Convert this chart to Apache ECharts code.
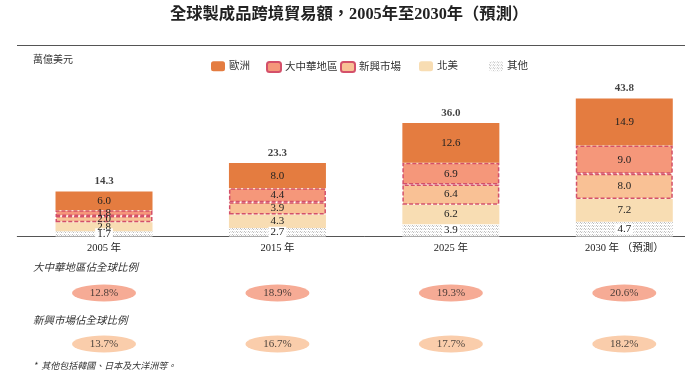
<!DOCTYPE html>
<html>
<head>
<meta charset="utf-8">
<script src="https://cdn.jsdelivr.net/npm/echarts@6/dist/echarts.min.js"></script>
<style>html,body{margin:0;padding:0;background:#fff;overflow:hidden;width:685px;height:379px}#c{width:711px;height:379px}</style>
</head>
<body>
<div id="c"></div>
<script>
const years = ['2005 年', '2015 年', '2025 年', '2030 年 （預測）'];
const europe = [6.0, 8.0, 12.6, 14.9];
const greaterChina = [1.8, 4.4, 6.9, 9.0];
const emerging = [2.0, 3.9, 6.4, 8.0];
const northAmerica = [2.8, 4.3, 6.2, 7.2];
const others = [1.7, 2.7, 3.9, 4.7];
const totals = [14.3, 23.3, 36.0, 43.8];
const chinaShare = ['12.8%', '18.9%', '19.3%', '20.6%'];
const emergingShare = ['13.7%', '16.7%', '17.7%', '18.2%'];
const shareRows = ['大中華地區佔全球比例', '新興市場佔全球比例'];

const SERIF = '"Liberation Serif", "Noto Sans CJK TC", serif';
const TXT = '#222';

// dotted pattern for 其他
const pc = document.createElement('canvas');
pc.width = 4; pc.height = 3;
const pctx = pc.getContext('2d');
pctx.fillStyle = '#fff'; pctx.fillRect(0, 0, 4, 3);
pctx.fillStyle = '#bdbdbd';
pctx.fillRect(0, 0, 1, 1); pctx.fillRect(1, 1, 1, 1);
pctx.fillStyle = '#e2e2e2';
pctx.fillRect(2, 0, 1, 1); pctx.fillRect(3, 1, 1, 1);

const chart = echarts.init(document.getElementById('c'));
const barLabel = { show: true, position: 'inside', color: TXT, fontFamily: SERIF, fontSize: 11,
  formatter: p => p.value.toFixed(1) };
const dashed = { borderColor: '#D4506A', borderWidth: 1.5, borderType: [4, 2] };

function lg(name, left) {
  return { data: [name], left: left, top: 61, padding: 0, itemWidth: 14, itemHeight: 10, itemGap: 4,
    textStyle: { fontFamily: SERIF, fontSize: 10.5, color: '#333', padding: [0, 0, 0, -1] },
    selectedMode: false };
}

chart.setOption({
  animation: false,
  textStyle: { fontFamily: SERIF },
  title: { text: '全球製成品跨境貿易額，2005年至2030年（預測）', left: 170, top: 4, padding: 0,
    textStyle: { fontFamily: SERIF, fontSize: 16.3, fontWeight: 'bold', color: '#222', lineHeight: 22 } },
  legend: [lg('歐洲', 211), lg('大中華地區', 266), lg('新興市場', 340), lg('北美', 419), lg('其他', 489)],
  grid: [
    { left: 17.3, right: 0, top: 79, height: 157.5 },
    { left: 17.3, right: 0, top: 267.5, height: 102 }
  ],
  xAxis: [
    { type: 'category', data: years, gridIndex: 0,
      axisLine: { lineStyle: { color: '#555', width: 1 } }, axisTick: { show: false },
      axisLabel: { color: TXT, fontFamily: SERIF, fontSize: 10.5, margin: 7 } },
    { type: 'category', data: years, gridIndex: 1, show: false }
  ],
  yAxis: [
    { type: 'value', min: 0, max: 50, gridIndex: 0, show: false, splitLine: { show: false } },
    { type: 'category', data: shareRows, gridIndex: 1, inverse: true, show: false }
  ],
  graphic: [
    { type: 'line', shape: { x1: 17, y1: 45.5, x2: 711, y2: 45.5 }, style: { stroke: '#555', lineWidth: 1 } },
    { type: 'text', left: 33, top: 54, style: { text: '萬億美元', font: '10px "Noto Sans CJK TC"', fill: '#333' } },
    { type: 'text', left: 33, top: 262, style: { text: shareRows[0], font: 'italic 10.5px "Noto Sans CJK TC"', fill: '#333' } },
    { type: 'text', left: 33, top: 315, style: { text: shareRows[1], font: 'italic 10.5px "Noto Sans CJK TC"', fill: '#333' } },
    { type: 'text', left: 33, top: 361, style: { text: '*  其他包括韓國、日本及大洋洲等。', font: 'italic 9px "Noto Sans CJK TC"', fill: '#333' } }
  ],
  series: [
    { name: '其他', type: 'bar', stack: 'a', data: others, barWidth: 97,
      itemStyle: { color: { image: pc, repeat: 'repeat' } },
      label: Object.assign({}, barLabel, { backgroundColor: '#fff', padding: [0, 2, 0, 2] }) },
    { name: '北美', type: 'bar', stack: 'a', data: northAmerica, barWidth: 97,
      itemStyle: { color: '#F8DDB3' }, label: barLabel },
    { name: '新興市場', type: 'bar', stack: 'a', data: emerging, barWidth: 97,
      itemStyle: Object.assign({ color: '#F9C195' }, dashed), label: barLabel },
    { name: '大中華地區', type: 'bar', stack: 'a', data: greaterChina, barWidth: 97,
      itemStyle: Object.assign({ color: '#F5977A' }, dashed), label: barLabel },
    { name: '歐洲', type: 'bar', stack: 'a', data: europe, barWidth: 97,
      itemStyle: { color: '#E47C40' }, label: barLabel },
    { name: 'total', type: 'scatter', data: totals, symbolSize: 1,
      itemStyle: { color: 'rgba(0,0,0,0)' },
      label: { show: true, position: 'top', distance: 4, color: '#111', fontFamily: SERIF,
        fontSize: 11, fontWeight: 'bold', formatter: p => p.value.toFixed(1) } },
    { name: 'chinaShare', type: 'scatter', xAxisIndex: 1, yAxisIndex: 1,
      data: chinaShare.map((v, i) => [i, 0, v]), symbol: 'circle', symbolSize: [64, 17],
      itemStyle: { color: '#F4967A' },
      label: { show: true, position: 'inside', color: TXT, fontFamily: SERIF, fontSize: 11,
        formatter: p => p.value[2] } },
    { name: 'emergingShare', type: 'scatter', xAxisIndex: 1, yAxisIndex: 1,
      data: emergingShare.map((v, i) => [i, 1, v]), symbol: 'circle', symbolSize: [64, 17],
      itemStyle: { color: '#F9C196' },
      label: { show: true, position: 'inside', color: TXT, fontFamily: SERIF, fontSize: 11,
        formatter: p => p.value[2] } }
  ]
});
</script>
</body>
</html>
